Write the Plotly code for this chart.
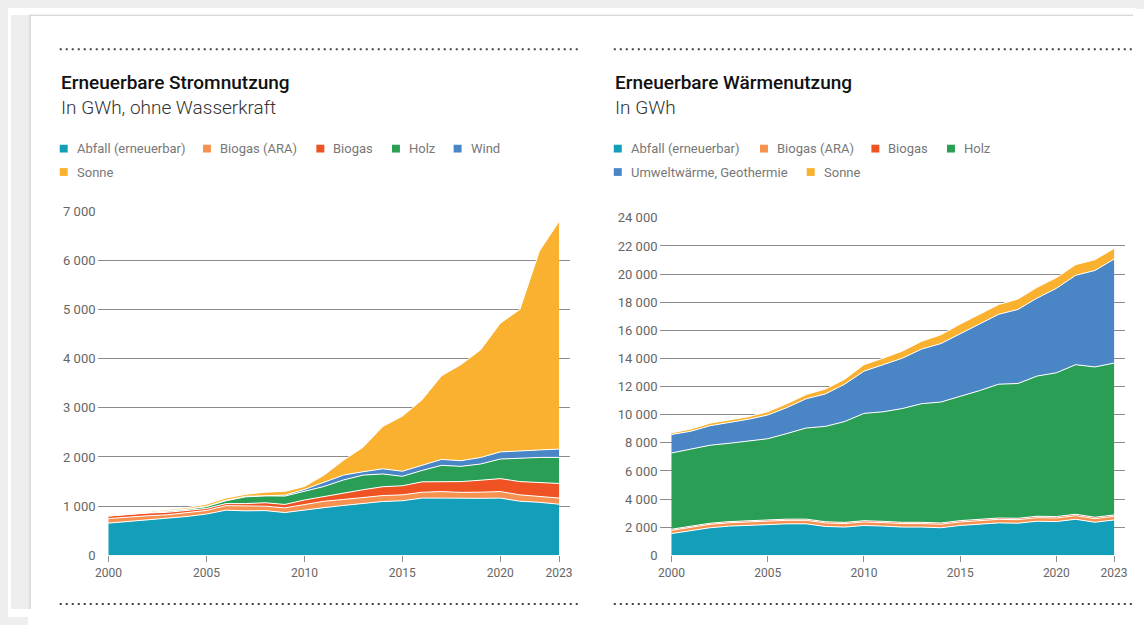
import plotly.graph_objects as go

# The page body keeps the browser's default 8px margin, so the figure is
# 16px smaller than the window and reference pixel positions are shifted by 8.
OFF = 8
W, H = 1144 - 2 * OFF, 625 - 2 * OFF

years = list(range(2000, 2024))

# --- Erneuerbare Stromnutzung (GWh) ---
strom_abfall = [655, 690, 720, 745, 790, 840, 919, 905, 910, 870, 925, 970, 1015, 1050, 1095, 1110, 1164, 1164, 1155, 1160, 1164, 1100, 1078, 1040]
strom_biogas_ara = [93, 90, 85, 80, 75, 73, 91, 100, 90, 95, 115, 130, 122, 120, 120, 120, 119, 132, 125, 125, 132, 130, 119, 125]
strom_biogas = [52, 55, 55, 50, 45, 40, 42, 47, 70, 70, 85, 100, 132, 165, 180, 185, 211, 204, 220, 243, 264, 270, 278, 297]
strom_holz = [1, 3, 5, 20, 25, 38, 58, 138, 140, 170, 175, 200, 264, 297, 260, 192, 231, 330, 310, 330, 398, 480, 516, 530]
strom_wind = [3, 3, 5, 5, 5, 8, 10, 10, 10, 20, 40, 80, 99, 68, 105, 103, 105, 120, 115, 132, 145, 150, 152, 168]
strom_sonne = [6, 12, 20, 25, 30, 40, 45, 40, 65, 75, 60, 150, 303, 500, 860, 1120, 1330, 1700, 1955, 2190, 2617, 2870, 4047, 4630]

# --- Erneuerbare Wärmenutzung (GWh) ---
waerme_abfall = [1548, 1779, 1964, 2079, 2148, 2195, 2241, 2241, 2056, 2010, 2125, 2079, 2010, 2010, 1964, 2125, 2241, 2310, 2287, 2426, 2402, 2564, 2356, 2518]
waerme_biogas_ara = [230, 235, 240, 240, 245, 250, 250, 250, 250, 250, 250, 250, 250, 250, 250, 250, 250, 250, 250, 255, 255, 260, 255, 255]
waerme_biogas = [80, 80, 80, 80, 80, 80, 85, 85, 85, 85, 90, 90, 90, 90, 90, 95, 95, 95, 100, 100, 100, 100, 100, 100]
waerme_holz = [5419, 5460, 5547, 5571, 5635, 5768, 6087, 6479, 6780, 7172, 7630, 7791, 8091, 8438, 8599, 8826, 9126, 9519, 9583, 9970, 10225, 10636, 10687, 10802]
waerme_umwelt = [1316, 1270, 1386, 1478, 1571, 1686, 1848, 2079, 2310, 2657, 3003, 3350, 3581, 3881, 4158, 4458, 4735, 4966, 5267, 5544, 6006, 6352, 6861, 7392]
waerme_sonne = [116, 162, 185, 185, 185, 231, 277, 301, 346, 346, 462, 462, 508, 554, 624, 693, 693, 693, 739, 763, 762, 763, 762, 763]

strom_names = ["Abfall (erneuerbar)", "Biogas (ARA)", "Biogas", "Holz", "Wind", "Sonne"]
waerme_names = ["Abfall (erneuerbar)", "Biogas (ARA)", "Biogas", "Holz", "Umweltwärme, Geothermie", "Sonne"]
colors = ["#139fba", "#f7914f", "#ef5323", "#2b9e55", "#4a86c5", "#f9b12f"]

x_ticks = [2000, 2005, 2010, 2015, 2020, 2023]
strom_yticks = [0, 1000, 2000, 3000, 4000, 5000, 6000, 7000]
waerme_yticks = list(range(0, 26000, 2000))

FONT = "Roboto"


def px(x):
    return (x - OFF) / W


def py(y):
    return 1 - (y - OFF) / H


fig = go.Figure()

strom_series = [strom_abfall, strom_biogas_ara, strom_biogas, strom_holz, strom_wind, strom_sonne]
waerme_series = [waerme_abfall, waerme_biogas_ara, waerme_biogas, waerme_holz, waerme_umwelt, waerme_sonne]

for name, vals, col in zip(strom_names, strom_series, colors):
    fig.add_trace(go.Scatter(x=years, y=vals, name=name, stackgroup="s", mode="lines",
                             line=dict(color="white", width=1), fillcolor=col,
                             xaxis="x", yaxis="y", showlegend=False))
for name, vals, col in zip(waerme_names, waerme_series, colors):
    fig.add_trace(go.Scatter(x=years, y=vals, name=name, stackgroup="w", mode="lines",
                             line=dict(color="white", width=1), fillcolor=col,
                             xaxis="x2", yaxis="y2", showlegend=False))

# axis geometry (reference pixels)
L = dict(gx0=95, gx1=570, x2000=106, x2023=559, ytop=209, ybot=562)
R = dict(gx0=660, gx1=1128, x2000=672, x2023=1117, ytop=216, ybot=562)


def xrange(g):
    per = (g["x2023"] - g["x2000"]) / 23
    return [2000 - (g["x2000"] - g["gx0"]) / per, 2023 + (g["gx1"] - g["x2023"]) / per]


grid_col = "#8c8c8c"
xtick_font = dict(family=FONT, size=12, color="#666666")
ytick_font = dict(family=FONT, size=13, color="#666666")

common_x = dict(tickvals=x_ticks, ticks="outside", ticklen=6, tickcolor=grid_col, tickwidth=1,
                showgrid=False, zeroline=False, showline=False, tickfont=xtick_font, fixedrange=True)
common_y = dict(showgrid=True, gridcolor=grid_col, gridwidth=1, zeroline=False, showline=False,
                ticks="", tickfont=ytick_font, tickformat=",d", ticklabelstandoff=1, fixedrange=True)

fig.update_layout(
    width=W, height=H,
    margin=dict(l=0, r=0, t=0, b=0),
    paper_bgcolor="white",
    plot_bgcolor="rgba(0,0,0,0)",
    separators=". ",
    font=dict(family=FONT),
    xaxis=dict(domain=[px(L["gx0"]), px(L["gx1"])], range=xrange(L), anchor="y", **common_x),
    yaxis=dict(domain=[py(L["ybot"]), py(L["ytop"])], range=[0, 7000], tickvals=strom_yticks,
               anchor="x", **common_y),
    xaxis2=dict(domain=[px(R["gx0"]), px(R["gx1"])], range=xrange(R), anchor="y2", **common_x),
    yaxis2=dict(domain=[py(R["ybot"]), py(R["ytop"])], range=[0, 24000], tickvals=waerme_yticks,
                anchor="x2", **common_y),
    hovermode=False,
)

shapes = []
# grey page behind the card (left strip and top band) with a soft shadow at the card edge
shapes.append(dict(type="rect", xref="paper", yref="paper", layer="below",
                   x0=0, x1=px(28), y0=0, y1=1, fillcolor="#eeeeee", line=dict(width=0)))
shapes.append(dict(type="rect", xref="paper", yref="paper", layer="below",
                   x0=0, x1=1, y0=py(9), y1=1, fillcolor="#eeeeee", line=dict(width=0)))
for i, a in enumerate([0.02, 0.03, 0.045]):
    d = 3 - i
    shapes.append(dict(type="rect", xref="paper", yref="paper", layer="below",
                       x0=px(28 - d), x1=1, y0=0, y1=py(9 - d),
                       fillcolor=f"rgba(0,0,0,{a})", line=dict(width=0)))
shapes.append(dict(type="rect", xref="paper", yref="paper", layer="below",
                   x0=px(28), x1=1, y0=0, y1=py(9),
                   fillcolor="white", line=dict(width=0)))

# dotted separators
for (x0, x1) in [(57, 578), (614, 1135)]:
    for yy in [43, 612]:
        shapes.append(dict(type="line", xref="paper", yref="paper",
                           x0=px(x0), x1=px(x1), y0=py(yy), y1=py(yy),
                           line=dict(color="#444444", width=2, dash="2px,4px")))

annotations = []


def add_header(x, title, subtitle):
    annotations.append(dict(xref="paper", yref="paper", x=px(x - 1), y=py(77), xanchor="left", yanchor="middle",
                            text=title, showarrow=False,
                            font=dict(family=FONT, size=19, color="#111111", weight=500)))
    annotations.append(dict(xref="paper", yref="paper", x=px(x - 1), y=py(103), xanchor="left", yanchor="middle",
                            text=subtitle, showarrow=False,
                            font=dict(family=FONT, size=19, color="#333333", weight=300)))


def add_legend(items):
    for name, col, tx, ty in items:
        shapes.append(dict(type="rect", xref="paper", yref="paper",
                           x0=px(tx - 16), x1=px(tx - 8), y0=py(ty + 4), y1=py(ty - 4),
                           fillcolor=col, line=dict(width=0)))
        annotations.append(dict(xref="paper", yref="paper", x=px(tx - 1), y=py(ty), xanchor="left",
                                yanchor="middle", text=name, showarrow=False,
                                font=dict(family=FONT, size=13, color="#777777")))


add_header(57, "Erneuerbare Stromnutzung", "In GWh, ohne Wasserkraft")
add_header(614, "Erneuerbare Wärmenutzung", "In GWh")

left_pos = [(73, 145), (217, 145), (331, 145), (407, 145), (469, 145), (73, 169)]
right_pos = [(630, 145), (777, 145), (889, 145), (965, 145), (630, 169), (824, 169)]
add_legend([(n, c, p[0], p[1]) for n, c, p in zip(strom_names, colors, left_pos)])
add_legend([(n, c, p[0], p[1]) for n, c, p in zip(waerme_names, colors, right_pos)])

fig.update_layout(shapes=shapes, annotations=annotations)

# paint the 8px body margin like the page behind the card: grey on the left and top, white elsewhere
post = (
    "document.documentElement.style.background='#ffffff';"
    "document.body.style.overflow='hidden';"
    "function band(css){var d=document.createElement('div');"
    "d.style.cssText='position:fixed;background:#eeeeee;z-index:-1;pointer-events:none;'+css;"
    "document.body.appendChild(d);}"
    "band('left:0;top:0;width:28px;height:100vh;');"
    "band('left:0;top:0;width:100vw;height:9px;');"
)
fig.write_html("out.html", config={"displayModeBar": False}, post_script=post)
